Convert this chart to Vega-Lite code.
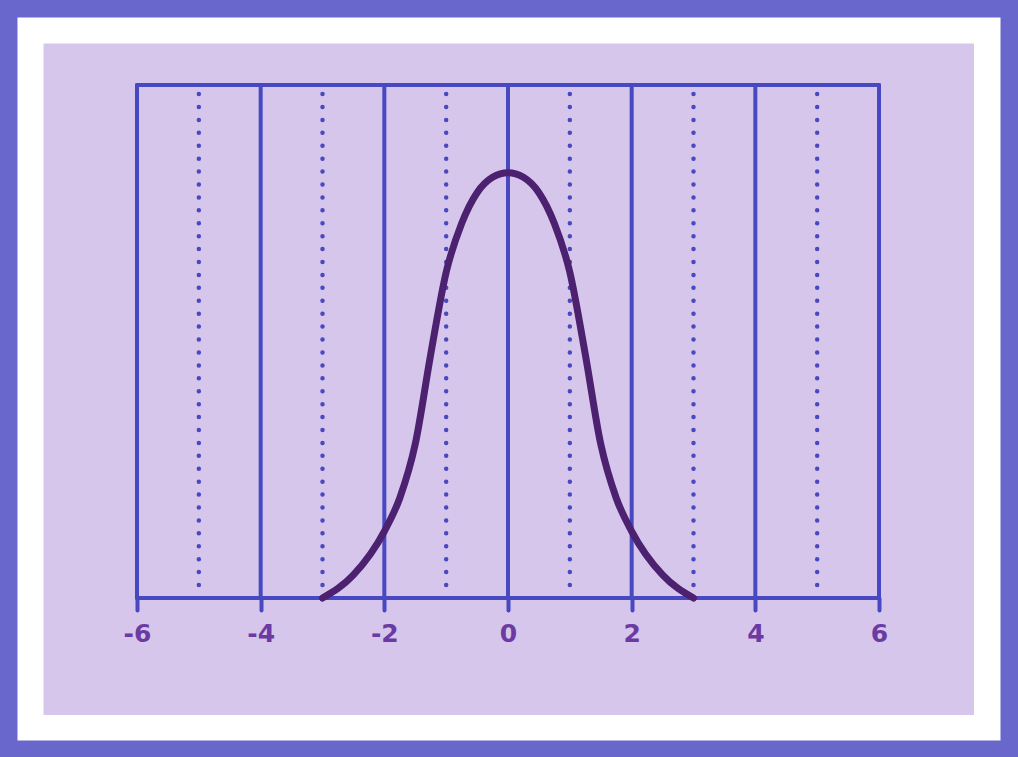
{
  "$schema": "https://vega.github.io/schema/vega-lite/v6.json",
  "width": 742,
  "height": 513,
  "autosize": "none",
  "padding": {"left": 137, "top": 85, "right": 139, "bottom": 159},
  "background": "#6966cc",
  "config": {"view": {"stroke": null}},
  "datasets": {
    "curve": [
      {"x": -3.0, "v": 0.0},
      {"x": -2.5, "v": 0.045},
      {"x": -2.0, "v": 0.13},
      {"x": -1.75, "v": 0.195},
      {"x": -1.5, "v": 0.3},
      {"x": -1.25, "v": 0.475},
      {"x": -1.0, "v": 0.635},
      {"x": -0.75, "v": 0.73},
      {"x": -0.5, "v": 0.79},
      {"x": -0.25, "v": 0.82},
      {"x": 0.0, "v": 0.829},
      {"x": 0.25, "v": 0.82},
      {"x": 0.5, "v": 0.79},
      {"x": 0.75, "v": 0.73},
      {"x": 1.0, "v": 0.635},
      {"x": 1.25, "v": 0.475},
      {"x": 1.5, "v": 0.3},
      {"x": 1.75, "v": 0.195},
      {"x": 2.0, "v": 0.13},
      {"x": 2.5, "v": 0.045},
      {"x": 3.0, "v": 0.0}
    ],
    "solid": [{"x": -6}, {"x": -4}, {"x": -2}, {"x": 0}, {"x": 2}, {"x": 4}, {"x": 6}],
    "dotted": [{"x": -5}, {"x": -3}, {"x": -1}, {"x": 1}, {"x": 3}, {"x": 5}]
  },
  "layer": [
    {
      "data": {"values": [{}]},
      "mark": {"type": "rect", "color": "#ffffff"},
      "encoding": {
        "x": {"datum": -7.933, "type": "quantitative", "scale": {"domain": [-6, 6], "nice": false, "zero": false}, "axis": {"values": [-6, -4, -2, 0, 2, 4, 6], "format": "d", "labelExpr": "replace(datum.label, '\u2212', '-')", "title": null, "domain": false, "grid": false, "ticks": true, "tickSize": 12, "tickWidth": 4, "tickColor": "#4848c0", "tickCap": "round", "labelFont": "DejaVu Sans", "labelFontSize": 25, "labelFontWeight": "bold", "labelColor": "#6b3aa3", "labelPadding": 11, "labelFlush": false, "labelOverlap": false, "zindex": 1}},
        "x2": {"datum": 7.965},
        "y": {"datum": 1.1316, "type": "quantitative", "scale": {"domain": [0, 1], "nice": false, "zero": false}, "axis": null},
        "y2": {"datum": -0.2778}
      }
    },
    {
      "data": {"values": [{}]},
      "mark": {"type": "rect", "color": "#d6c6ec"},
      "encoding": {
        "x": {"datum": -7.512, "type": "quantitative"},
        "x2": {"datum": 7.536},
        "y": {"datum": 1.0809, "type": "quantitative", "axis": null},
        "y2": {"datum": -0.2281}
      }
    },
    {
      "data": {"name": "solid"},
      "mark": {"type": "rule", "color": "#4848c0", "strokeWidth": 4, "strokeCap": "round"},
      "encoding": {
        "x": {"field": "x", "type": "quantitative"},
        "y": {"datum": 0, "type": "quantitative", "axis": null},
        "y2": {"datum": 1}
      }
    },
    {
      "data": {"values": [{}]},
      "mark": {"type": "rule", "color": "#4848c0", "strokeWidth": 4, "strokeCap": "round"},
      "encoding": {
        "y": {"datum": 1, "type": "quantitative", "axis": null}
      }
    },
    {
      "data": {"values": [{}]},
      "mark": {"type": "rule", "color": "#4848c0", "strokeWidth": 4, "strokeCap": "round"},
      "encoding": {
        "y": {"datum": 0, "type": "quantitative", "axis": null}
      }
    },
    {
      "data": {"name": "dotted"},
      "mark": {"type": "rule", "color": "#4848c0", "strokeWidth": 4.5, "strokeCap": "round", "strokeDash": [0, 12.92]},
      "encoding": {
        "x": {"field": "x", "type": "quantitative"},
        "y": {"datum": 0.0253, "type": "quantitative", "axis": null},
        "y2": {"datum": 0.9825}
      }
    },
    {
      "data": {"name": "curve"},
      "mark": {"type": "line", "color": "#4b2170", "strokeWidth": 7, "strokeCap": "round", "interpolate": "monotone"},
      "encoding": {
        "x": {"field": "x", "type": "quantitative"},
        "y": {"field": "v", "type": "quantitative", "axis": null}
      }
    }
  ]
}
